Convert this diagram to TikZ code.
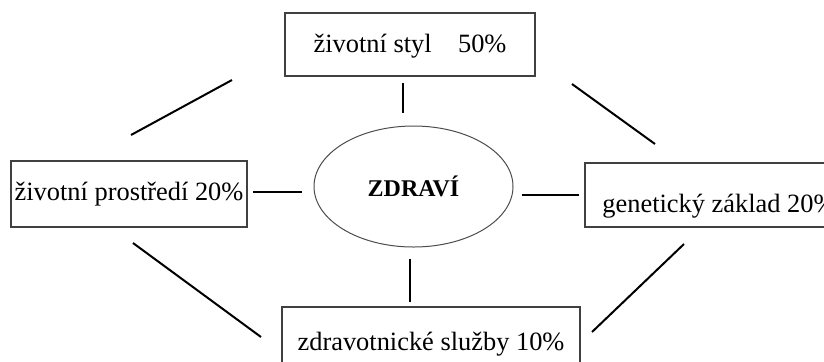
\documentclass[tikz,border=0pt]{standalone}
\usepackage{fontspec}
\setmainfont{Liberation Serif}
\usetikzlibrary{positioning,shapes.geometric}

\begin{document}
\begin{tikzpicture}[
    x=0.5pt, y=-0.5pt,
    boxnode/.style={rectangle, draw=black!75, line width=0.7pt, inner xsep=1pt, font=\fontsize{13.2}{16}\selectfont},
    ovalnode/.style={ellipse, draw=black!70, line width=0.5pt, inner sep=0pt, minimum width=99.5pt, minimum height=60.5pt, font=\fontsize{12}{14}\selectfont\bfseries},
    spoke/.style={draw=black, line width=1pt}
    ]
        \clip (0,0) rectangle (824,361);

        %Nodes
        \node[ovalnode]
            (zdravi)    at (413.5,186.5)    {ZDRAVÍ};
        \node[boxnode, minimum width=125pt, minimum height=31.5pt, text height=10pt, text depth=2pt]
            (styl)      at (410,44.5)       {životní styl\quad 50\%\hspace{7pt}};
        \node[boxnode, minimum width=118pt, minimum height=33pt, text height=9pt, text depth=3pt]
            (prostredi) at (129,194)        {životní prostředí 20\%};
        \node[boxnode, minimum width=134pt, minimum height=32pt, text height=19pt, text depth=2pt]
            (geny)      at (719,195)        {genetický základ 20\%};
        \node[boxnode, minimum width=149pt, minimum height=32pt, text height=13pt, text depth=2pt]
            (sluzby)    at (431,339)        {zdravotnické služby 10\%};

        %Line ends
        \coordinate (t1) at (403,83);   \coordinate (t2) at (403,113);
        \coordinate (l1) at (253,192);  \coordinate (l2) at (302,192);
        \coordinate (r1) at (522,195);  \coordinate (r2) at (579,195);
        \coordinate (b1) at (410,259);  \coordinate (b2) at (410,302);
        \coordinate (ul1) at (131,135); \coordinate (ul2) at (232,80);
        \coordinate (ur1) at (572,84);  \coordinate (ur2) at (655,144);
        \coordinate (ll1) at (133,243); \coordinate (ll2) at (261,337);
        \coordinate (lr1) at (592,332); \coordinate (lr2) at (684,244);

        %Lines
        \draw[spoke] (t1) -- (t2);
        \draw[spoke] (l1) -- (l2);
        \draw[spoke] (r1) -- (r2);
        \draw[spoke] (b1) -- (b2);
        \draw[spoke] (ul1) -- (ul2);
        \draw[spoke] (ur1) -- (ur2);
        \draw[spoke] (ll1) -- (ll2);
        \draw[spoke] (lr1) -- (lr2);
    \end{tikzpicture}
\end{document}
